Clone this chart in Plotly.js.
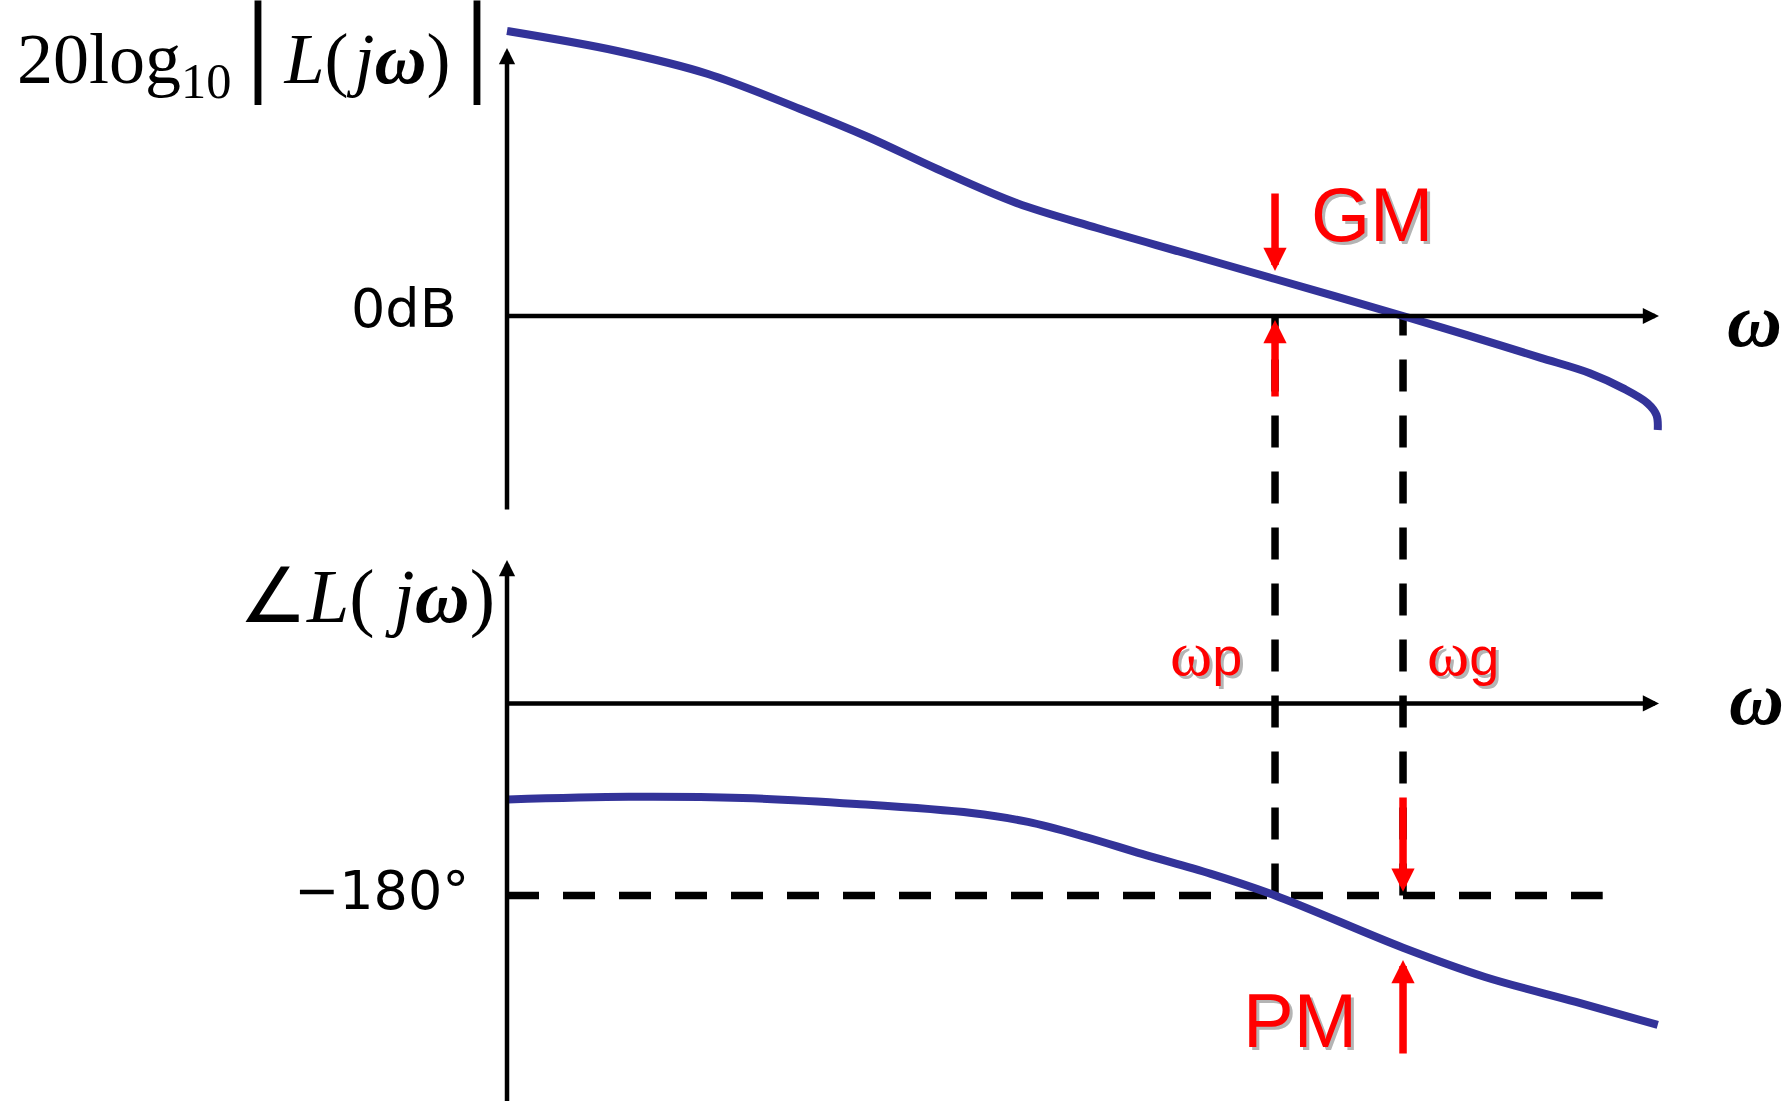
<!DOCTYPE html>
<html>
<head>
<meta charset="utf-8">
<script src="https://cdn.plot.ly/plotly-3.0.1.min.js"></script>
<style>
  html, body { margin: 0; padding: 0; background: #ffffff; }
  #bode { width: 1791px; height: 1101px; }
</style>
</head>
<body>
<div id="bode"></div>
<script>
// Schematic Bode diagram of a loop transfer function L(jω),
// frequency in arbitrary linear units along the ω axis.
const omegaMag = [0, 0.86, 1.57, 2.29, 2.82, 3.36, 3.98, 4.61, 5.32, 6.0, 7.0, 7.5, 8.07, 8.46, 8.72, 8.91, 8.98, 8.99];
const magDb    = [71.25, 66.25, 60.5, 51.75, 44.75, 36.75, 28.25, 22, 15.5, 9.25, 0, -4.8, -10.4, -14.3, -18.1, -21.8, -24.75, -28.5];

const omegaPhase = [0, 0.95, 1.84, 2.73, 3.63, 4.07, 4.52, 4.96, 5.5, 6.0, 7.0, 7.64, 8.35, 8.99];
const phaseDeg   = [-90, -87.5, -88.6, -94.2, -102.7, -111.1, -125.2, -141.1, -159.8, -180, -229, -256.4, -279.8, -301.4];

const omegaP = 6;   // phase crossover frequency ωp
const omegaG = 7;   // gain crossover frequency ωg
const omegaEnd = 9; // end of the ω axes
const refLevels = { magDb: 0, phaseDeg: -180 };
const axisLabels = ['0dB', '−180°'];
const freqSubs = ['p', 'g'];
const marginLabels = ['GM', 'PM'];

// Axis ranges: the magnitude (dB) and phase (deg) axes share the page height.
const X_RANGE = [-3.961, 10.031];
const MAG_RANGE = [-196.25, 79];
const PH_RANGE = [-372.7, 659.5];

function phaseToMag(deg) {
  const f = (deg - PH_RANGE[0]) / (PH_RANGE[1] - PH_RANGE[0]);
  return MAG_RANGE[0] + f * (MAG_RANGE[1] - MAG_RANGE[0]);
}
function magAt(w) { return magDb[omegaMag.indexOf(w)]; }
function phaseAt(w) { return phaseDeg[omegaPhase.indexOf(w)]; }

const BLUE = '#333399';
const RED = '#ff0000';
const SHADOW = '#b4b4b4';
const SERIF = 'Liberation Serif, Times New Roman, serif';
const SANS = 'Liberation Sans, Arial, sans-serif';
const MATHSANS = 'DejaVu Sans, sans-serif';

const traces = [
  { x: omegaMag, y: magDb, xaxis: 'x', yaxis: 'y', mode: 'lines',
    line: { color: BLUE, width: 8, shape: 'spline', smoothing: 1 }, cliponaxis: false, hoverinfo: 'skip' },
  { x: omegaPhase, y: phaseDeg, xaxis: 'x', yaxis: 'y2', mode: 'lines',
    line: { color: BLUE, width: 8, shape: 'spline', smoothing: 1 }, cliponaxis: false, hoverinfo: 'skip' }
];

function arrow(x, y, ax, ay, yref, color, width, size) {
  return { x: x, y: y, ax: ax, ay: ay, xref: 'x', yref: yref, axref: 'x', ayref: yref,
           text: '', showarrow: true, arrowhead: 2, arrowsize: size, arrowwidth: width,
           arrowcolor: color, standoff: 0, font: { size: 1 } };
}
function label(text, x, y, yref, font, xanchor) {
  return { x: x, y: y, xref: 'x', yref: yref, text: text, showarrow: false,
           xanchor: xanchor || 'left', yanchor: 'middle', font: font, borderpad: 0 };
}
function shadowed(text, x, y, yref, size, xanchor) {
  return [
    Object.assign(label(text, x, y, yref, { family: SANS, size: size, color: SHADOW }, xanchor), { xshift: 3, yshift: -3 }),
    label(text, x, y, yref, { family: SANS, size: size, color: RED }, xanchor)
  ];
}
function freqText(sub) {
  return '<span style="font-family:Liberation Serif;font-size:64px">ω</span>' + sub;
}

const gm = magAt(omegaP);
const pmPhase = phaseAt(omegaG);
const black = (family, size) => ({ family: family, size: size, color: '#000' });
const absBar = '<span style="font-family:DejaVu Sans;font-size:88px">│</span>';
const magTitle = '20log<sub>10</sub>' + absBar + '<i>L</i>(\u200a<i>j</i><b><i>ω</i></b>)' + absBar;
const phaseTitle = '∠<i>L</i>( <i>j</i><b><i>ω</i></b>)';

const annotations = [
  // axes with arrow heads
  arrow(0, 67, 0, -48.75, 'y', '#000', 4.5, 0.72),
  arrow(omegaEnd, refLevels.magDb, -0.02, refLevels.magDb, 'y', '#000', 4.5, 0.72),
  arrow(0, 134.5, 0, -385, 'y2', '#000', 4.5, 0.72),
  arrow(omegaEnd, 0, -0.02, 0, 'y2', '#000', 4.5, 0.72),

  // gain margin arrows at ωp
  arrow(omegaP, gm + 2, omegaP, gm + 21.75, 'y', RED, 7.5, 0.62),
  arrow(omegaP, refLevels.magDb - 1, omegaP, refLevels.magDb - 20.5, 'y', RED, 7.5, 0.62),
  // phase margin arrows at ωg
  arrow(omegaG, refLevels.phaseDeg + 3.4, omegaG, refLevels.phaseDeg + 93.3, 'y2', RED, 7.5, 0.62),
  arrow(omegaG, pmPhase - 11.5, omegaG, pmPhase - 100.5, 'y2', RED, 7.5, 0.62),

  // axis titles
  label(magTitle, -3.836, 65.5, 'y', black(SERIF, 72)),
  label(phaseTitle, -2.10, 100, 'y2', black(SERIF, 76)),
  label('<b><i>ω</i></b>', 9.52, -0.9, 'y', black(SERIF, 76)),
  label('<b><i>ω</i></b>', 9.535, 5.2, 'y2', black(SERIF, 76)),

  // reference level labels
  label(axisLabels[0], -0.383, refLevels.magDb + 2, 'y', black(MATHSANS, 54), 'right'),
  label(axisLabels[1], -0.289, refLevels.phaseDeg + 4.2, 'y2', black(MATHSANS, 54), 'right')
].concat(
  shadowed(marginLabels[0], 6.27, 25.4, 'y', 76),
  shadowed(marginLabels[1], 5.74, -297.2, 'y2', 76),
  shadowed(freqText(freqSubs[0]), omegaP - 0.54, 46.4, 'y2', 54, 'center'),
  shadowed(freqText(freqSubs[1]), omegaG + 0.465, 46.4, 'y2', 54, 'center')
);

const dashLine = { color: '#000', width: 7.5, dash: '32px,24px' };
const shapes = [
  { type: 'line', layer: 'below', xref: 'x', yref: 'y2', x0: 0, x1: 8.56,
    y0: refLevels.phaseDeg, y1: refLevels.phaseDeg, line: dashLine },
  { type: 'line', layer: 'below', xref: 'x', yref: 'y', x0: omegaP, x1: omegaP,
    y0: phaseToMag(refLevels.phaseDeg), y1: refLevels.magDb, line: dashLine },
  { type: 'line', layer: 'below', xref: 'x', yref: 'y', x0: omegaG, x1: omegaG,
    y0: phaseToMag(refLevels.phaseDeg), y1: refLevels.magDb, line: dashLine }
];

const hidden = { visible: false, fixedrange: true, showgrid: false, zeroline: false };
const layout = {
  width: 1791, height: 1101, autosize: false,
  margin: { l: 0, r: 0, t: 0, b: 0, pad: 0 },
  paper_bgcolor: '#ffffff', plot_bgcolor: '#ffffff',
  showlegend: false,
  xaxis: Object.assign({ range: X_RANGE, domain: [0, 1] }, hidden),
  yaxis: Object.assign({ range: MAG_RANGE, domain: [0, 1] }, hidden),
  yaxis2: Object.assign({ range: PH_RANGE, overlaying: 'y' }, hidden),
  annotations: annotations,
  shapes: shapes
};

Plotly.newPlot('bode', traces, layout, { staticPlot: true, displayModeBar: false });
</script>
</body>
</html>
